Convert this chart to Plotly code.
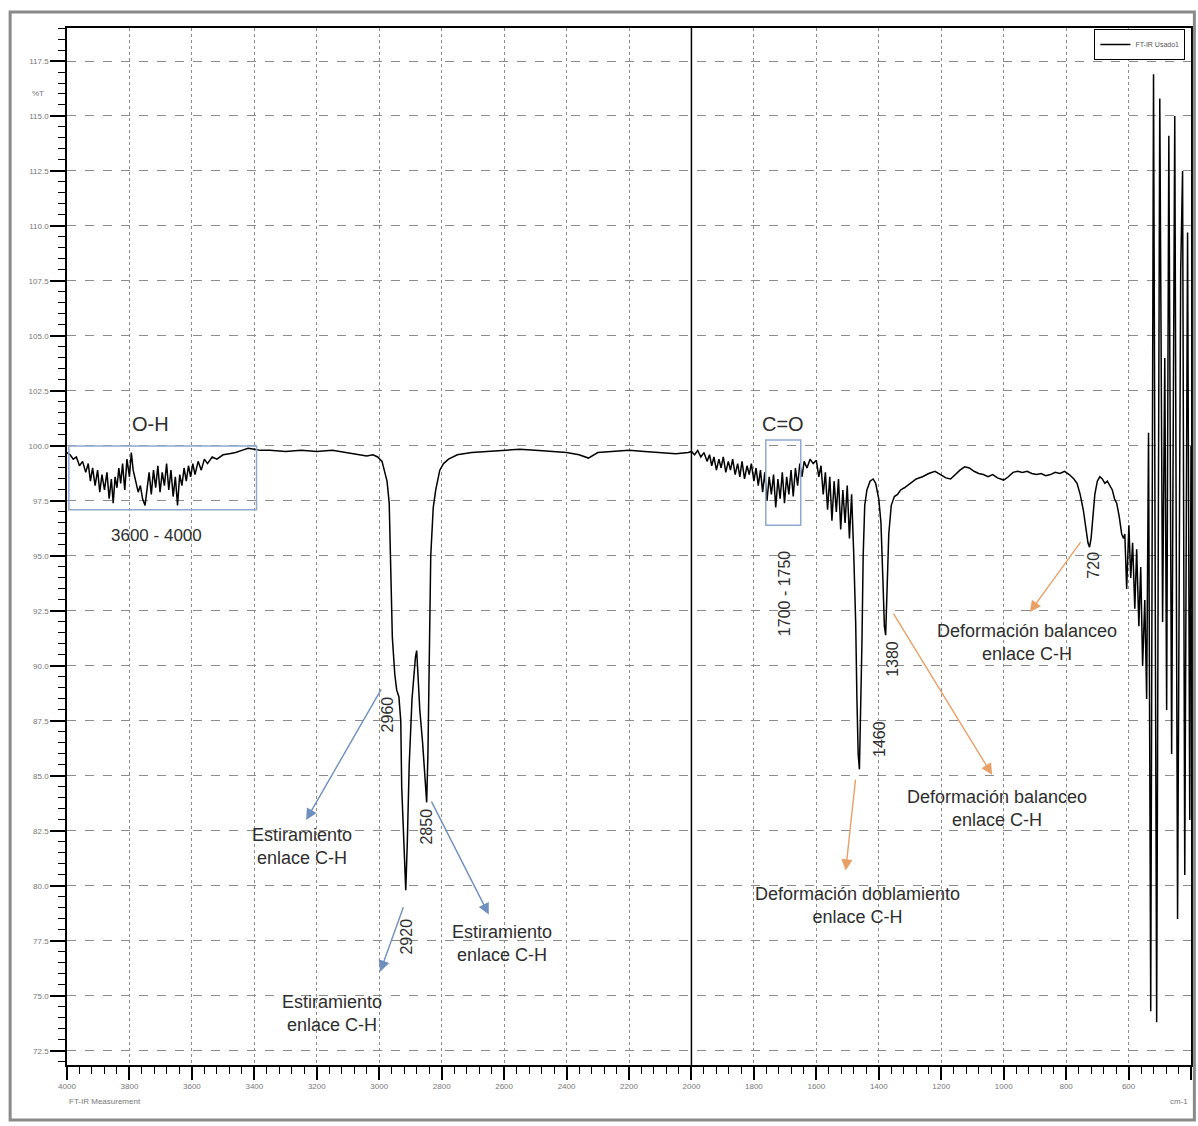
import plotly.graph_objects as go

# ---------------- data ----------------
# O-H region, 4000-3400 cm-1 (noisy)
oh_wn = [4000, 3990, 3980, 3970, 3960, 3950, 3940, 3932, 3925, 3918, 3910, 3902, 3895, 3888,
         3880, 3872, 3865, 3858, 3852, 3846, 3840, 3834, 3828, 3822, 3815, 3808, 3800, 3794,
         3788, 3780, 3772, 3765, 3758, 3750, 3744, 3737, 3730, 3723, 3716, 3709, 3702, 3695,
         3688, 3681, 3674, 3667, 3660, 3653, 3646, 3639, 3632, 3625, 3618, 3611, 3604, 3597,
         3590, 3580, 3570, 3560, 3550, 3535, 3520, 3500, 3480, 3460, 3440, 3420, 3400]
oh_t = [99.7, 99.6, 99.4, 99.5, 99.1, 99.3, 98.8, 99.2, 98.4, 99.0, 98.2, 98.9, 97.9, 98.7,
        98.0, 98.8, 97.6, 98.5, 97.4, 98.6, 98.1, 99.0, 98.3, 99.2, 98.0, 99.4, 98.6, 99.7,
        98.9, 98.4, 97.9, 98.2, 97.6, 97.3, 98.0, 98.8, 97.8, 98.9, 98.1, 99.1, 97.9, 98.8,
        98.2, 99.2, 98.0, 98.9, 97.7, 98.6, 97.3, 98.7, 98.2, 99.0, 98.4, 99.1, 98.6, 99.2,
        98.7, 99.3, 98.9, 99.4, 99.2, 99.5, 99.4, 99.6, 99.65, 99.7, 99.8, 99.9, 99.85]

# C-H stretching region, 3400-2000 cm-1
ch_wn = [3380, 3350, 3300, 3250, 3200, 3150, 3100, 3060, 3040, 3020, 3005, 2991, 2975, 2968,
         2963, 2958, 2950, 2944, 2937, 2931, 2928, 2921, 2915, 2910, 2904, 2895, 2889, 2884,
         2880, 2876, 2870, 2861, 2854, 2848, 2844, 2840, 2835, 2827, 2819, 2806, 2794, 2778,
         2750, 2704, 2650, 2600, 2550, 2500, 2450, 2400, 2360, 2330, 2300, 2250, 2200, 2150,
         2100, 2050, 2010]
ch_t = [99.8, 99.8, 99.75, 99.8, 99.75, 99.8, 99.7, 99.6, 99.55, 99.6, 99.5, 99.3, 98.4, 97.4,
        93.6, 91.3, 89.6, 88.9, 88.6, 87.5, 84.5, 81.5, 79.8, 82.0, 85.5, 88.5, 89.6, 90.4,
        90.7, 89.5, 88.0, 86.5, 85.2, 83.8, 86.0, 90.0, 95.0, 97.2, 98.0, 98.9, 99.2, 99.4,
        99.6, 99.7, 99.75, 99.8, 99.85, 99.8, 99.75, 99.7, 99.6, 99.45, 99.7, 99.75, 99.8, 99.75,
        99.7, 99.65, 99.7]

# C=O and fingerprint region, 2000-615 cm-1
fp_wn = [2000, 1990, 1980, 1970, 1960, 1950, 1942, 1935, 1928, 1920, 1912, 1905, 1898, 1890,
         1882, 1875, 1868, 1860, 1852, 1845, 1838, 1830, 1822, 1815, 1808, 1800, 1793, 1786,
         1779, 1772, 1765, 1758, 1751, 1744, 1737, 1730, 1723, 1716, 1709, 1702, 1695, 1688,
         1681, 1674, 1667, 1660, 1653, 1646, 1639, 1630, 1620, 1610, 1600, 1592, 1585, 1578,
         1571, 1564, 1557, 1550, 1543, 1536, 1529, 1522, 1515, 1508, 1501, 1494, 1487, 1480,
         1474, 1470, 1466, 1462, 1458, 1454, 1450, 1445, 1438, 1428, 1418, 1410, 1400, 1393,
         1387, 1382, 1378, 1374, 1368, 1360, 1350, 1340, 1330, 1318, 1300, 1280, 1260, 1240,
         1220, 1200, 1185, 1170, 1155, 1140, 1125, 1110, 1095, 1080, 1065, 1050, 1035, 1020,
         1000, 985, 970, 955, 940, 925, 910, 895, 880, 865, 850, 835, 820, 805,
         790, 775, 765, 755, 745, 737, 730, 725, 720, 714, 708, 700, 692, 684,
         676, 668, 660, 652, 645, 638, 630, 622, 616]
fp_t = [99.75, 99.6, 99.8, 99.5, 99.7, 99.3, 99.6, 99.1, 99.5, 98.9, 99.4, 99.0, 99.5, 98.8,
        99.3, 98.9, 99.4, 98.7, 99.2, 98.6, 99.3, 98.5, 99.1, 98.7, 99.2, 98.4, 99.0, 98.2,
        98.9, 97.9, 98.8, 97.5, 98.6, 97.8, 98.7, 97.2, 98.5, 97.6, 98.8, 97.4, 98.6, 97.8,
        98.9, 97.7, 99.0, 98.2, 99.2, 98.6, 99.3, 99.0, 99.4, 99.2, 99.35, 98.6, 99.1, 97.8,
        98.8, 97.1, 98.6, 96.6, 98.4, 97.0, 98.5, 96.2, 98.0, 96.5, 98.2, 95.8, 97.8, 95.0,
        92.0, 88.5, 86.0, 85.3, 87.5, 91.0, 95.0, 97.3, 98.0, 98.4, 98.5, 98.3, 97.6, 96.5,
        94.0, 91.8, 91.4, 93.0, 96.0, 97.3, 97.7, 97.8, 98.0, 98.1, 98.3, 98.5, 98.6, 98.75,
        98.85, 98.7, 98.55, 98.5, 98.7, 98.9, 99.05, 99.0, 98.85, 98.75, 98.7, 98.6, 98.7, 98.55,
        98.45, 98.6, 98.8, 98.85, 98.8, 98.85, 98.75, 98.7, 98.75, 98.65, 98.7, 98.8, 98.75, 98.85,
        98.7, 98.5, 98.3, 97.8, 97.1, 96.3, 95.6, 95.4, 95.8, 96.8, 97.8, 98.4, 98.6, 98.5,
        98.3, 98.4, 98.2, 98.0, 97.6, 97.4, 96.8, 96.0, 95.8]

# Noisy low-wavenumber end, 612-400 cm-1
lw_wn = [612, 606, 599, 593, 587, 580, 574, 567, 561, 555, 548, 542, 536, 529, 520, 510,
         500, 491, 484, 478, 471, 462, 452, 443, 433, 427, 420, 411, 404, 400]
lw_t = [96.0, 93.5, 96.4, 94.0, 95.6, 92.6, 95.3, 91.8, 94.5, 90.0, 93.0, 88.5, 100.6, 74.3,
        116.9, 73.8, 115.8, 92.0, 104.0, 88.0, 114.1, 86.0, 115.0, 78.5, 108.0, 112.5, 80.5,
        109.7, 83.0, 100.0]

series_name = "FT-IR Usado1"
x_ticks = list(range(400, 4001, 200))
y_ticks = [72.5 + 2.5 * i for i in range(19)]

wavenumber = oh_wn + ch_wn + fp_wn + lw_wn
transmittance = oh_t + ch_t + fp_t + lw_t

# ---------------- figure ----------------
fig = go.Figure()
fig.add_trace(go.Scatter(x=wavenumber, y=transmittance, mode="lines", name=series_name,
                         line=dict(color="black", width=1.5), showlegend=True))

TXT = "#2e2e2e"
FONT = "Liberation Sans, Arial, sans-serif"
BLUE = "#6f8fbf"
ORANGE = "#e9a067"
BOX = "#8fa9cf"

annotations = []

def label(x, y, text, size=18, angle=0, color=TXT):
    annotations.append(dict(x=x, y=y, xref="x", yref="y", text=text, showarrow=False,
                            textangle=angle, font=dict(family=FONT, size=size, color=color)))

def arrow(x_tail, y_tail, x_head, y_head, color):
    annotations.append(dict(x=x_head, y=y_head, ax=x_tail, ay=y_tail, xref="x", yref="y",
                            axref="x", ayref="y", text="", showarrow=True, arrowhead=2,
                            arrowsize=1.6, arrowwidth=1.4, arrowcolor=color))

label(3732, 101.0, "O-H", size=20)
label(3713, 95.95, "3600 - 4000", size=17)
label(1707, 101.0, "C=O", size=20)
label(1701, 93.3, "1700 - 1750", size=16, angle=-90)
label(2975, 87.8, "2960", size=16, angle=-90)
label(2847, 82.7, "2850", size=16, angle=-90)
label(2911, 77.7, "2920", size=16, angle=-90)
label(1398, 86.7, "1460", size=16, angle=-90)
label(1356, 90.3, "1380", size=16, angle=-90)
label(711, 94.6, "720", size=16, angle=-90)

label(3246, 81.8, "Estiramiento<br>enlace C-H")
label(2608, 77.4, "Estiramiento<br>enlace C-H")
label(3151, 74.2, "Estiramiento<br>enlace C-H")
label(925, 91.05, "Deformación balanceo<br>enlace C-H")
label(1021, 83.5, "Deformación balanceo<br>enlace C-H")
label(1468, 79.1, "Deformación doblamiento<br>enlace C-H")

arrow(2991, 89.0, 3234, 83.0, BLUE)
arrow(2921, 79.1, 2997, 76.1, BLUE)
arrow(2835, 83.9, 2649, 78.7, BLUE)
arrow(750, 95.7, 916, 92.45, ORANGE)
arrow(1356, 92.45, 1037, 85.05, ORANGE)
arrow(1474, 84.9, 1506, 80.7, ORANGE)

# paper-level small labels
annotations.append(dict(x=-0.033, y=0.943, xref="paper", yref="paper", text="%T", showarrow=False,
                        font=dict(family=FONT, size=8, color="#777")))
annotations.append(dict(x=0.0, y=-0.041, xref="paper", yref="paper", text="FT-IR Measurement",
                        xanchor="left", showarrow=False, font=dict(family=FONT, size=8, color="#777")))
annotations.append(dict(x=0.999, y=-0.041, xref="paper", yref="paper", text="cm-1",
                        xanchor="right", showarrow=False, font=dict(family=FONT, size=8, color="#777")))

shapes = [
    # highlight boxes
    dict(type="rect", xref="x", yref="y", x0=3994, x1=3393, y0=97.1, y1=100.0,
         line=dict(color=BOX, width=1.5)),
    dict(type="rect", xref="x", yref="y", x0=1762, x1=1650, y0=96.4, y1=100.27,
         line=dict(color=BOX, width=1.5)),
    # vertical marker at 2000 cm-1
    dict(type="line", xref="x", yref="paper", x0=2000, x1=2000, y0=0, y1=1,
         line=dict(color="black", width=1.5)),
    # outer window frame
    dict(type="rect", xref="paper", yref="paper", x0=-0.0506, x1=1.003, y0=-0.053, y1=1.0155,
         line=dict(color="#8a8a8a", width=3)),
]

fig.update_layout(
    width=1198, height=1126,
    margin=dict(l=67, r=5, t=28, b=61),
    paper_bgcolor="white", plot_bgcolor="white",
    annotations=annotations, shapes=shapes,
    showlegend=True,
    legend=dict(x=0.995, y=0.999, xanchor="right", yanchor="top", bordercolor="black",
                borderwidth=1, bgcolor="white", font=dict(family=FONT, size=7, color="#555"),
                itemwidth=30, tracegroupgap=0),
    xaxis=dict(range=[4000, 400], tickvals=x_ticks, ticktext=[str(v) for v in x_ticks],
               ticks="outside", ticklen=13, tickwidth=1.5, tickcolor="black",
               showline=True, linecolor="black", linewidth=1.5, mirror=True,
               showgrid=True, gridcolor="#8c8c8c", gridwidth=1, griddash="dot",
               zeroline=False, tickfont=dict(family=FONT, size=8, color="#777"),
               minor=dict(dtick=40, tick0=0, ticks="outside", ticklen=7, tickwidth=1.2,
                          tickcolor="black", showgrid=False)),
    yaxis=dict(range=[71.86, 119.0], tickvals=y_ticks, ticktext=[f"{v:.1f}" for v in y_ticks],
               ticks="outside", ticklen=15, tickwidth=1.5, tickcolor="black",
               showline=True, linecolor="black", linewidth=1.5, mirror=True,
               showgrid=True, gridcolor="#8c8c8c", gridwidth=1, griddash="dash",
               zeroline=False, tickfont=dict(family=FONT, size=8, color="#777"),
               minor=dict(dtick=0.5, tick0=0, ticks="outside", ticklen=7, tickwidth=1.2,
                          tickcolor="black", showgrid=False)),
)

fig.write_html("out.html", config={"displayModeBar": False},
               post_script="document.body.style.margin='0';document.body.style.overflow='hidden';")
